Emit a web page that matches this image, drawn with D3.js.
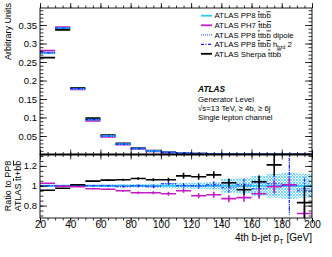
<!DOCTYPE html>
<html>
<head>
<meta charset="utf-8">
<script src="https://cdn.jsdelivr.net/npm/d3@7"></script>
<style>
  body { margin: 0; background: #fff; }
  svg { font-family: "Liberation Sans", Arial, sans-serif; }
</style>
</head>
<body>
<div id="chart"></div>
<script>
// bins of 4th b-jet pT [GeV]
const binLow  = [20, 30, 40, 50, 60, 70, 80, 90, 100, 110, 120, 130, 140, 150, 160, 170, 180, 190];
const binHigh = [30, 40, 50, 60, 70, 80, 90, 100, 110, 120, 130, 140, 150, 160, 170, 180, 190, 200];

// upper panel: normalised distributions
const pp8     = [0.275, 0.342, 0.178, 0.094, 0.050, 0.028, 0.016, 0.0095, 0.0058, 0.0036, 0.0023, 0.0015, 0.0010, 0.0007, 0.0005, 0.0003, 0.0002, 0.00015];
const ph7     = [0.281, 0.344, 0.176, 0.091, 0.048, 0.0266, 0.015, 0.0088, 0.0053, 0.0034, 0.0021, 0.0014, 0.0009, 0.0006, 0.00045, 0.0003, 0.0002, 0.0001];
const dipole  = [0.274, 0.342, 0.178, 0.094, 0.050, 0.028, 0.016, 0.0095, 0.0059, 0.0036, 0.0023, 0.0015, 0.0010, 0.0007, 0.0005, 0.0003, 0.0002, 0.00015];
const hbzd2   = [0.275, 0.342, 0.178, 0.094, 0.050, 0.0278, 0.016, 0.0094, 0.0059, 0.0036, 0.0023, 0.0015, 0.0010, 0.0007, 0.0005, 0.0003, 0.0002, 0.00014];
const sherpa  = [0.262, 0.337, 0.180, 0.098, 0.052, 0.030, 0.0173, 0.0102, 0.0062, 0.0040, 0.0025, 0.0017, 0.0010, 0.0007, 0.0005, 0.0004, 0.0002, 0.0001];

// lower panel: ratio to PP8
const ratioPh7     = [1.025, 0.995, 0.99, 0.97, 0.965, 0.95, 0.93, 0.93, 0.92, 0.95, 0.90, 0.91, 0.87, 0.88, 0.92, 0.99, 1.01, 0.72];
const errPh7       = [0.004, 0.004, 0.005, 0.006, 0.008, 0.01, 0.012, 0.015, 0.02, 0.02, 0.025, 0.03, 0.035, 0.04, 0.05, 0.06, 0.07, 0.08];
const ratioSherpa  = [0.955, 0.975, 1.01, 1.047, 1.057, 1.06, 1.073, 1.06, 1.06, 1.10, 1.09, 1.11, 1.03, 0.96, 1.04, 1.21, null, 0.83];
const errSherpa    = [0.004, 0.004, 0.005, 0.006, 0.008, 0.01, 0.012, 0.015, 0.02, 0.03, 0.03, 0.035, 0.04, 0.05, 0.06, 0.11, 0, 0.16];
const ratioDipole  = [1.0, 1.0, 1.0, 1.0, 1.0, 1.0, 0.995, 1.0, 1.02, 1.0, 0.99, 1.0, 1.02, 0.99, 1.03, 1.0, 1.0, 0.97];
const errDipole    = [0.004, 0.004, 0.005, 0.006, 0.008, 0.01, 0.012, 0.015, 0.02, 0.025, 0.03, 0.035, 0.05, 0.06, 0.08, 0.1, 0.3, 0.12];
const ratioHbzd2   = [1.0, 1.0, 1.0, 1.0, 1.0, 0.99, 1.0, 0.99, 1.02, 1.0, 1.0, 1.01, 0.98, 1.01, 0.97, 1.02, 1.0, 0.95];
const errHbzd2     = [0.004, 0.004, 0.005, 0.006, 0.008, 0.01, 0.012, 0.015, 0.02, 0.025, 0.03, 0.035, 0.05, 0.06, 0.08, 0.1, 0.28, 0.12];
const bandPp8      = [0.008, 0.007, 0.008, 0.01, 0.012, 0.015, 0.018, 0.02, 0.025, 0.028, 0.03, 0.035, 0.07, 0.08, 0.1, 0.12, 0.13, 0.12];

const topTicks   = [0.05, 0.1, 0.15, 0.2, 0.25, 0.3, 0.35];
const ratioTicks = [0.8, 1, 1.2];
const xTicks     = [20, 40, 60, 80, 100, 120, 140, 160, 180, 200];

(function ratio_plot() {
const W = 332, H = 257;
const pLeft = 40, pRight = 312, pTop = 8, pMid = 154.5, pBottom = 218;

const svg = d3.select("#chart").append("svg")
  .attr("width", W).attr("height", H);

const x = d3.scaleLinear().domain([20, 200]).range([pLeft, pRight]);
const yTop = d3.scaleLinear().domain([0, 0.396]).range([pMid, pTop]);
const yRat = d3.scaleLinear().domain([0.675, 1.315]).range([pBottom, pMid]);

const cCyan = "#2ec8f5", cMag = "#c21bc2", cDot = "#3d6bff", cDash = "#1a1aff", cBlack = "#000";

// hatch pattern for PP8 uncertainty
const defs = svg.append("defs");
const pat = defs.append("pattern").attr("id", "hatch")
  .attr("width", 3).attr("height", 3).attr("patternUnits", "userSpaceOnUse");
pat.append("path").attr("d", "M0,0L3,3M3,0L0,3").attr("stroke", "#5fd0f7").attr("stroke-width", 0.9);
defs.append("clipPath").attr("id", "clipR").append("rect")
  .attr("x", pLeft).attr("y", pMid).attr("width", pRight - pLeft).attr("height", pBottom - pMid);
defs.append("clipPath").attr("id", "clipT").append("rect")
  .attr("x", pLeft).attr("y", pTop).attr("width", pRight - pLeft).attr("height", pMid - pTop);

const bins = binLow.map((lo, i) => ({lo: lo, hi: binHigh[i], i: i}));

// ---- upper panel
const gTop = svg.append("g").attr("clip-path", "url(#clipT)");
function topSeries(vals, color, width, dash) {
  gTop.append("g").selectAll("line").data(bins).join("line")
    .attr("x1", d => x(d.lo)).attr("x2", d => x(d.hi))
    .attr("y1", d => yTop(vals[d.i])).attr("y2", d => yTop(vals[d.i]))
    .attr("stroke", color).attr("stroke-width", width)
    .attr("stroke-dasharray", dash || null);
}
topSeries(sherpa, cBlack, 1.8);
topSeries(ph7, cMag, 1.8);
topSeries(pp8, cCyan, 1.8);
topSeries(dipole, cDot, 1.3, "1,1");
topSeries(hbzd2, cDash, 1.2, "3,1.5,1,1.5");

// ---- ratio panel
const gRat = svg.append("g").attr("clip-path", "url(#clipR)");
gRat.append("g").selectAll("rect").data(bins).join("rect")
  .attr("x", d => x(d.lo)).attr("width", d => x(d.hi) - x(d.lo))
  .attr("y", d => yRat(1 + bandPp8[d.i]))
  .attr("height", d => yRat(1 - bandPp8[d.i]) - yRat(1 + bandPp8[d.i]))
  .attr("fill", "url(#hatch)");

function ratioSeries(vals, errs, color, width, dash) {
  const data = bins.filter(d => vals[d.i] != null);
  const g = gRat.append("g").attr("stroke", color).attr("stroke-width", width)
    .attr("stroke-dasharray", dash || null);
  g.selectAll("line.h").data(data).join("line").attr("class", "h")
    .attr("x1", d => x(d.lo)).attr("x2", d => x(d.hi))
    .attr("y1", d => yRat(vals[d.i])).attr("y2", d => yRat(vals[d.i]));
  if (errs) {
    g.selectAll("line.v").data(data).join("line").attr("class", "v")
      .attr("x1", d => x((d.lo + d.hi) / 2)).attr("x2", d => x((d.lo + d.hi) / 2))
      .attr("y1", d => yRat(vals[d.i] + errs[d.i])).attr("y2", d => yRat(vals[d.i] - errs[d.i]));
  }
}
ratioSeries(binLow.map(() => 1), null, cCyan, 1.8);
ratioSeries(ratioDipole, errDipole, cDot, 1.2, "1,1");
ratioSeries(ratioHbzd2, errHbzd2, cDash, 1.1, "3,1.5,1,1.5");
ratioSeries(ratioPh7, errPh7, cMag, 1.6);
ratioSeries(ratioSherpa, errSherpa, cBlack, 1.6);

// ---- axes (ticks inside on all sides)
function minorVals(lo, hi, step) {
  const out = [];
  for (let v = lo; v <= hi + 1e-9; v += step) out.push(+v.toFixed(4));
  return out;
}
function drawAxis(axis, tx, ty, fs) {
  const g = svg.append("g").attr("transform", `translate(${tx},${ty})`).call(axis);
  g.select(".domain").remove();
  g.selectAll("text").attr("font-size", fs || 9.5).attr("font-family", "Liberation Sans, Arial, sans-serif").attr("fill", "#000");
  g.selectAll("line").attr("stroke", "#000").attr("stroke-width", 0.8);
  return g;
}
const fmt = d => String(+d.toFixed(2));

// upper panel y
drawAxis(d3.axisLeft(yTop).tickValues(minorVals(0, 0.39, 0.01)).tickSize(-3.5).tickFormat(""), pLeft, 0);
drawAxis(d3.axisLeft(yTop).tickValues(topTicks).tickSize(-7).tickPadding(3).tickFormat(fmt), pLeft, 0);
drawAxis(d3.axisRight(yTop).tickValues(minorVals(0, 0.39, 0.01)).tickSize(-3.5).tickFormat(""), pRight, 0);
drawAxis(d3.axisRight(yTop).tickValues(topTicks).tickSize(-7).tickFormat(""), pRight, 0);
// ratio panel y
drawAxis(d3.axisLeft(yRat).tickValues(minorVals(0.7, 1.3, 0.05)).tickSize(-3.5).tickFormat(""), pLeft, 0);
drawAxis(d3.axisLeft(yRat).tickValues(ratioTicks).tickSize(-7).tickPadding(3).tickFormat(fmt), pLeft, 0);
drawAxis(d3.axisRight(yRat).tickValues(minorVals(0.7, 1.3, 0.05)).tickSize(-3.5).tickFormat(""), pRight, 0);
drawAxis(d3.axisRight(yRat).tickValues(ratioTicks).tickSize(-7).tickFormat(""), pRight, 0);
// x ticks: top edge, panel boundary (both sides), bottom
const xMinor = minorVals(20, 200, 5);
[[pTop, "bottom"], [pMid, "top"], [pMid, "bottom"], [pBottom, "top"]].forEach(([yy, dir]) => {
  const ax = dir === "bottom" ? d3.axisBottom(x) : d3.axisTop(x);
  drawAxis(ax.tickValues(xMinor).tickSize(-2.5).tickFormat(""), 0, yy);
  drawAxis((dir === "bottom" ? d3.axisBottom(x) : d3.axisTop(x)).tickValues(xTicks).tickSize(-5).tickFormat(""), 0, yy);
});
drawAxis(d3.axisBottom(x).tickValues(xTicks).tickSize(0).tickPadding(3).tickFormat(d => d), 0, pBottom, 10);

// frames
svg.append("rect").attr("x", pLeft).attr("y", pTop).attr("width", pRight - pLeft).attr("height", pMid - pTop)
  .attr("fill", "none").attr("stroke", "#000").attr("stroke-width", 0.9);
svg.append("rect").attr("x", pLeft).attr("y", pMid).attr("width", pRight - pLeft).attr("height", pBottom - pMid)
  .attr("fill", "none").attr("stroke", "#000").attr("stroke-width", 0.9);
svg.append("line").attr("x1", pLeft).attr("x2", pRight).attr("y1", pMid).attr("y2", pMid)
  .attr("stroke", "#000").attr("stroke-width", 2);

// ---- axis titles
svg.append("text").attr("transform", `translate(11,${pTop - 5}) rotate(-90)`)
  .attr("text-anchor", "end").attr("font-size", 9).text("Arbitrary Units");
const rl = svg.append("text").attr("transform", `translate(11,186) rotate(-90)`)
  .attr("text-anchor", "middle").attr("font-size", 9);
rl.append("tspan").text("Ratio to PP8");
const rl2 = svg.append("text").attr("transform", `translate(21,186) rotate(-90)`)
  .attr("text-anchor", "middle").attr("font-size", 9);
rl2.append("tspan").text("ATLAS ");
rl2.append("tspan").attr("text-decoration", "overline").text("t");
rl2.append("tspan").text("t+b");
rl2.append("tspan").attr("text-decoration", "overline").text("b");

const xl = svg.append("text").attr("x", pRight).attr("y", 241).attr("text-anchor", "end").attr("font-size", 10);
xl.append("tspan").text("4th b-jet p");
xl.append("tspan").attr("font-size", 7).attr("dy", 2.5).text("T");
xl.append("tspan").attr("dy", -2.5).text(" [GeV]");

// ---- legend
const legNames = ["PP8", "PH7", "PP8", "PP8", "Sherpa"];
const legSuffix = ["", "", " dipole", "hbzd", ""];
const legStyle = [[cCyan, 1.8, null], [cMag, 1.8, null], [cDot, 1.3, "1,1"], [cDash, 1.3, "3,1.5,1,1.5"], [cBlack, 1.8, null]];
const legY = [15.7, 25.3, 34.8, 44.3, 53.8];
legNames.forEach((n, i) => {
  const yy = legY[i];
  svg.append("line").attr("x1", 201).attr("x2", 212).attr("y1", yy).attr("y2", yy)
    .attr("stroke", legStyle[i][0]).attr("stroke-width", legStyle[i][1]).attr("stroke-dasharray", legStyle[i][2]);
  const t = svg.append("text").attr("x", 214.5).attr("y", yy + 2.7).attr("font-size", 7.8);
  t.append("tspan").text("ATLAS " + n + " ");
  t.append("tspan").attr("text-decoration", "overline").text("t");
  t.append("tspan").text("t");
  t.append("tspan").text("b");
  t.append("tspan").attr("text-decoration", "overline").text("b");
  if (legSuffix[i] === " dipole") t.append("tspan").text(" dipole");
  if (legSuffix[i] === "hbzd") {
    t.append("tspan").text(" h");
    t.append("tspan").attr("font-size", 5).attr("dy", 1.8).text("bzd");
    t.append("tspan").attr("dy", -1.8).text(" 2");
  }
});

// ---- ATLAS label
svg.append("text").attr("x", 198).attr("y", 92).attr("font-size", 8.3).attr("font-weight", "bold")
  .attr("font-style", "italic").text("ATLAS");
const info = ["Generator Level", "\u221As=13 TeV, \u2265 4b, \u2265 6j", "Single lepton channel"];
const infoY = [101.7, 111, 120.3];
info.forEach((s, i) => {
  svg.append("text").attr("x", 198).attr("y", infoY[i]).attr("font-size", 7.8).text(s);
});
})();
</script>
</body>
</html>
